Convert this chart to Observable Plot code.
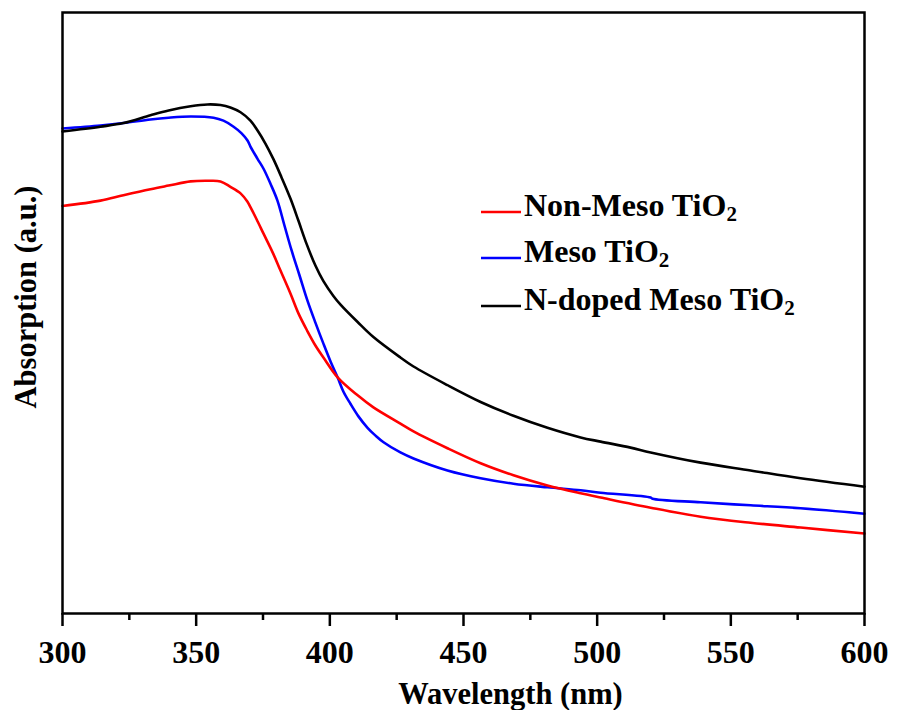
<!DOCTYPE html>
<html>
<head>
<meta charset="utf-8">
<script src="https://cdn.jsdelivr.net/npm/d3@7"></script>
<script src="https://cdn.jsdelivr.net/npm/@observablehq/plot@0.6"></script>
<style>
  html, body { margin: 0; padding: 0; background: #fff; }
</style>
</head>
<body>
<div id="chart"></div>
<script>
// Wavelength (nm) sample points and absorption (a.u.) per series
const nmNonMeso = [300,314.2,322.8,332.9,339.7,347.9,354.2,359.1,362.8,366.6,369.2,370.3,372.6,375.2,378.9,381.5,385.3,388.3,391.6,394.6,397.6,402.9,410.4,416.3,426.4,431.3,444.0,456.4,468.7,481.4,493.8,501.3,520.0,538.7,557.4,576.1,600];
const absNonMeso = [67.8,68.7,69.6,70.6,71.2,71.9,72.0,71.9,71.0,69.9,68.5,67.6,65.6,63.2,59.8,57.1,53.2,49.9,47.0,44.6,42.6,39.3,36.3,34.3,31.6,30.3,27.5,25.0,23.0,21.3,20.0,19.3,17.6,16.1,15.1,14.3,13.3];

const nmMeso = [300,314.2,322.8,332.9,339.7,347.9,356.5,360.2,364.0,367.0,369.2,370.3,372.9,375.2,377.8,380.4,383.0,385.7,388.7,391.6,394.6,397.6,400.3,402.9,405.1,407.7,410.7,414.1,417.1,420.1,426.4,431.3,444.0,456.4,468.7,481.4,493.8,501.3,520.0,520.7,538.7,557.4,576.1,600];
const absMeso = [80.7,81.2,81.6,82.2,82.5,82.7,82.5,82.0,81.0,79.9,78.7,77.7,75.7,74.0,71.5,68.7,64.6,60.4,56.2,52.1,48.4,44.9,41.9,39.3,36.9,34.9,32.8,30.9,29.6,28.5,26.8,25.8,23.8,22.5,21.6,21.0,20.5,20.1,19.3,19.1,18.5,18.0,17.5,16.6];

const nmNDoped = [300,314.2,322.8,332.9,339.7,347.9,354.2,359.1,362.8,366.6,370.3,372.9,375.9,378.9,381.9,385.3,388.3,391.3,394.6,397.6,401.4,404.0,410.4,416.3,426.4,431.3,444.0,456.4,468.7,481.4,493.8,501.3,512.5,520.0,538.7,557.4,576.1,600];
const absNDoped = [80.2,81.0,81.6,82.9,83.7,84.4,84.7,84.6,84.2,83.4,82.0,80.4,78.2,75.6,72.6,69.0,65.3,61.5,57.9,55.3,52.8,51.4,48.5,46.0,42.6,41.1,38.0,35.2,32.9,30.9,29.3,28.6,27.6,26.8,25.1,23.8,22.5,21.1];

const seriesNames = ["Non-Meso TiO", "Meso TiO", "N-doped Meso TiO"];
const seriesColors = ["#ff0000", "#0000ff", "#000000"];
const majorTicks = [300, 350, 400, 450, 500, 550, 600];
const minorTicks = [325, 375, 425, 475, 525, 575];

const toRows = (nm, ab, s) => nm.map((w, i) => ({wavelength: w, absorption: ab[i], series: s}));
const rows = [
  ...toRows(nmMeso, absMeso, seriesNames[1]),
  ...toRows(nmNonMeso, absNonMeso, seriesNames[0]),
  ...toRows(nmNDoped, absNDoped, seriesNames[2])
];

const FONT = "'Liberation Serif', 'Times New Roman', serif";

const chart = Plot.plot({
  width: 897,
  height: 710,
  marginLeft: 62,
  marginRight: 33,
  marginTop: 12,
  marginBottom: 97,
  style: {fontFamily: FONT, fontWeight: "bold", fontSize: "30px", background: "#fff", color: "#000"},
  x: {domain: [300, 600], axis: null},
  y: {domain: [0, 100], axis: null},
  color: {domain: seriesNames, range: seriesColors},
  marks: [
    Plot.axisX({ticks: majorTicks, tickSize: 13, tickPadding: 14, fontSize: 32, strokeWidth: 2.5, label: null, fill: "#000"}),
    Plot.axisX({ticks: minorTicks, tickSize: 7, text: null, strokeWidth: 2.5, label: null}),
    Plot.line(rows, {x: "wavelength", y: "absorption", z: "series", stroke: "series", strokeWidth: 2.6, curve: "catmull-rom"}),
    Plot.frame({stroke: "#000", strokeWidth: 2.5}),
    Plot.text(["Wavelength (nm)"], {frameAnchor: "bottom", dx: 47, dy: 90, lineAnchor: "bottom", textAnchor: "middle", fontSize: 30.5, fontWeight: "bold", fill: "#000"}),
    Plot.text(["Absorption (a.u.)"], {frameAnchor: "left", dx: -36, dy: -16, rotate: -90, lineAnchor: "middle", textAnchor: "middle", fontSize: 30.5, fontWeight: "bold", fill: "#000"})
  ]
});

document.getElementById("chart").appendChild(chart);

// Legend
const svg = d3.select(chart);
const leg = svg.append("g").attr("font-family", FONT).attr("font-weight", "bold").attr("text-anchor", "start");
const legY = [212, 258, 306];
seriesNames.forEach((name, i) => {
  leg.append("line")
    .attr("x1", 481).attr("x2", 521)
    .attr("y1", legY[i]).attr("y2", legY[i])
    .attr("stroke", seriesColors[i]).attr("stroke-width", 2.6);
  const t = leg.append("text")
    .attr("x", 524).attr("y", legY[i] + 4)
    .attr("text-anchor", "start")
    .attr("font-size", 32).attr("fill", "#000");
  t.append("tspan").text(name);
  t.append("tspan").attr("font-size", 21).attr("dy", 5).text("2");
});
</script>
</body>
</html>
